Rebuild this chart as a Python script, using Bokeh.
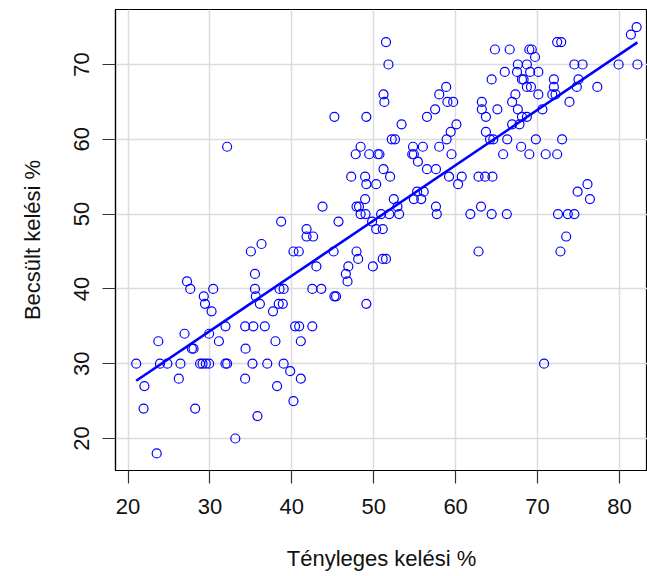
from bokeh.plotting import figure
from bokeh.models import Range1d, FixedTicker
from bokeh.embed import file_html
from bokeh.resources import INLINE

# Observed (actual) germination % vs. estimated germination %
actual = [
    32.1,
    51.5, 51.8, 51.2, 51.3, 45.2, 49.1, 53.4, 56.5, 57.5, 58.0, 58.85, 59.0, 59.7, 60.1,
    59.4, 58.9, 58.0, 59.5, 52.2, 52.6, 48.4, 47.8, 49.45, 50.5, 50.7, 54.8, 56.0, 54.7,
    54.9, 55.4,
    82.1, 81.4, 72.4, 72.9, 64.8, 66.6, 69.0, 69.3, 69.7, 67.6, 68.7, 74.5, 75.5, 79.9,
    82.2, 66.0, 67.5, 69.1, 70.1, 64.4, 68.1, 68.3, 72.0, 75.0, 68.7, 69.2, 72.0, 74.8,
    77.3, 67.3, 70.1, 71.8, 72.2, 73.9, 63.2, 63.2, 65.1, 66.9, 67.6, 63.7, 68.1, 68.7,
    70.6, 66.9, 67.8, 63.7, 64.2, 64.6, 66.3, 69.8, 73.0, 68.0, 69.0, 65.8, 71.0, 72.4,
    38.7, 36.3, 35.0, 40.2, 35.5, 27.2, 27.6, 30.4, 29.25, 29.4, 30.2, 35.5, 35.6, 36.1,
    38.5, 39.0, 37.7, 38.4, 38.9,
    51.2, 52.0, 56.5, 57.6, 59.2, 60.75, 60.3, 47.25, 48.95, 49.1, 50.3, 48.95, 47.9, 48.2,
    48.4, 49.0, 43.75, 45.7, 41.8, 41.8, 42.6, 40.85, 45.1, 43.0, 47.9, 48.1, 46.9, 46.6,
    46.8, 49.9, 51.1, 51.5, 49.8, 50.3, 51.1, 50.9, 51.9, 53.1, 52.45, 52.9, 54.9, 55.8,
    56.1, 55.3, 57.6, 57.7, 61.8, 42.5, 43.6, 45.2, 45.4, 49.1,
    62.8, 63.6, 64.5, 63.1, 64.4, 66.25, 62.8, 76.1, 74.9, 76.4, 72.5, 73.7, 74.5, 73.5,
    72.8,
    21.0, 22.0, 21.9, 23.5, 23.7, 23.9, 24.8, 26.4, 26.2, 26.9, 27.8, 28.0, 29.9, 28.2,
    28.8, 29.1, 29.5, 29.9, 31.1, 31.9, 31.9, 32.1, 34.3, 35.3, 36.7, 34.35, 34.3, 35.2,
    37.0, 39.0, 39.8, 38.0, 38.2, 35.8, 33.1, 40.2,
    40.4, 40.9, 42.5, 41.1, 41.1,
    70.8,
]
estimated = [
    59,
    73, 70, 66, 65, 63, 63, 62, 63, 64, 66, 67, 65, 65, 62,
    61, 60, 59, 58, 60, 60, 59, 58, 58, 58, 58, 59, 59, 58,
    58, 57,
    75, 74, 73, 73, 72, 72, 72, 72, 71, 70, 70, 70, 70, 70,
    70, 69, 69, 69, 69, 68, 68, 68, 68, 68, 67, 67, 67, 67,
    67, 66, 66, 66, 66, 65, 65, 64, 64, 65, 64, 63, 63, 63,
    64, 62, 62, 61, 60, 60, 60, 60, 60, 59, 58, 58, 58, 58,
    49, 46, 45, 45, 42, 41, 40, 40, 39, 38, 37, 40, 39, 38,
    40, 40, 37, 38, 38,
    56, 55, 56, 56, 55, 55, 54, 55, 55, 54, 54, 52, 51, 51,
    50, 50, 51, 49, 48, 47, 47, 45, 45, 43, 45, 44, 43, 42,
    41, 43, 44, 44, 49, 48, 48, 50, 50, 50, 52, 51, 52, 52,
    53, 53, 51, 50, 50, 40, 40, 39, 39, 38,
    55, 55, 55, 51, 50, 50, 45, 54, 53, 52, 50, 50, 50, 47,
    45,
    30, 27, 24, 18, 33, 30, 30, 30, 28, 34, 32, 32, 34, 24,
    30, 30, 30, 30, 33, 35, 30, 30, 35, 35, 35, 32, 28, 30,
    30, 30, 29, 33, 27, 23, 20, 25,
    35, 35, 35, 33, 28,
    30,
]

# Fitted regression line
fit_intercept = 12.2
fit_slope = 0.739

x_ticks = [20, 30, 40, 50, 60, 70, 80]
y_ticks = [20, 30, 40, 50, 60, 70]

x_label = "Tényleges kelési %"
y_label = "Becsült kelési %"

FONT = "Liberation Sans"

p = figure(
    width=647, height=576,
    x_range=Range1d(18.47, 83.43),
    y_range=Range1d(15.72, 77.35),
    output_backend="svg", toolbar_location=None,
    min_border_left=115, min_border_right=0, min_border_top=9, min_border_bottom=106,
)
p.background_fill_color = "white"
p.border_fill_color = "white"
p.outline_line_color = "black"
p.outline_line_width = 1.2

for g in (p.xgrid, p.ygrid):
    g.grid_line_color = "#dcdcdc"
    g.grid_line_width = 1.5
p.xgrid.ticker = FixedTicker(ticks=x_ticks)
p.ygrid.ticker = FixedTicker(ticks=y_ticks)

p.xaxis.ticker = FixedTicker(ticks=x_ticks)
p.yaxis.ticker = FixedTicker(ticks=y_ticks)
for ax in (p.xaxis[0], p.yaxis[0]):
    ax.axis_line_color = "black"
    ax.axis_line_width = 1.2
    ax.major_tick_line_color = "#333333"
    ax.major_tick_line_width = 1.2
    ax.major_tick_out = 13
    ax.major_tick_in = 0
    ax.minor_tick_line_color = None
    ax.major_label_text_font = FONT
    ax.major_label_text_font_size = "22px"
    ax.major_label_text_color = "#111111"
    ax.axis_label_text_font = FONT
    ax.axis_label_text_font_size = "22px"
    ax.axis_label_text_font_style = "normal"
    ax.axis_label_text_color = "#111111"

p.xaxis.axis_label = x_label
p.yaxis.axis_label = y_label
p.yaxis.major_label_orientation = "parallel"
p.xaxis.major_label_standoff = 15
p.yaxis.major_label_standoff = 13
p.xaxis.axis_label_standoff = 29
p.yaxis.axis_label_standoff = 27

p.scatter(actual, estimated, marker="circle", size=9, fill_color=None,
          line_color="blue", line_width=1.2)

x0, x1 = min(actual), max(actual)
p.line([x0, x1], [fit_intercept + fit_slope * x0, fit_intercept + fit_slope * x1],
       line_color="blue", line_width=2.6)

open("out.html", "w").write(file_html(p, INLINE))
